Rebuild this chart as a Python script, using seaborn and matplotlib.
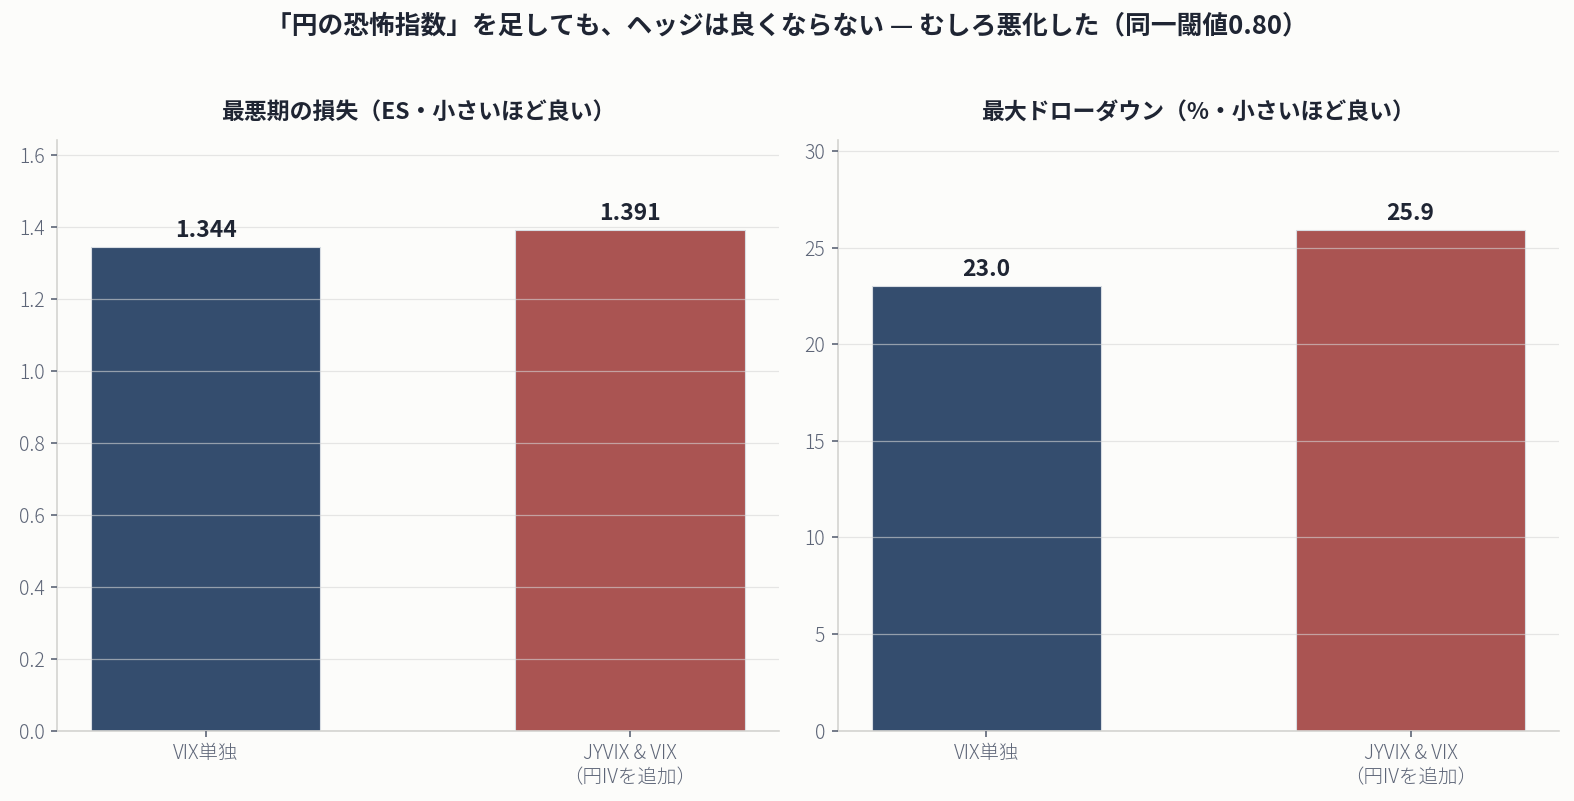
import matplotlib
matplotlib.use("Agg")
import matplotlib.pyplot as plt
import seaborn as sns
import pandas as pd

strategies = ["VIX単独", "JYVIX & VIX\n（円IVを追加）"]
es_values = [1.344, 1.391]
dd_values = [23.0, 25.9]
colors = ["#344d6e", "#aa5452"]

title = "「円の恐怖指数」を足しても、ヘッジは良くならない — むしろ悪化した（同一閾値0.80）"
sub1 = "最悪期の損失（ES・小さいほど良い）"
sub2 = "最大ドローダウン（%・小さいほど良い）"

sns.set_theme(style="white")
plt.rcParams['font.family'] = ['Noto Sans CJK JP', 'DejaVu Sans']

bg = "#fcfcfa"
fig, axes = plt.subplots(1, 2, figsize=(15.74, 8.01), dpi=100, facecolor=bg)
fig.subplots_adjust(left=0.0363, right=0.9905, top=0.825, bottom=0.088, wspace=0.082)

panels = [(axes[0], es_values, sub1, "{:.3f}", [0, 0.2, 0.4, 0.6, 0.8, 1.0, 1.2, 1.4, 1.6], "{:.1f}"),
          (axes[1], dd_values, sub2, "{:.1f}", [0, 5, 10, 15, 20, 25, 30], "{:.0f}")]

for ax, vals, sub, fmt, ticks, tfmt in panels:
    df = pd.DataFrame({"strategy": strategies, "value": vals})
    ax.set_facecolor(bg)
    sns.barplot(data=df, x="strategy", y="value", hue="strategy", palette=colors,
                saturation=1, width=0.54, edgecolor="#d8dde3", linewidth=0.8,
                legend=False, ax=ax)
    ax.set_xlim(-0.35, 1.35)
    ax.set_ylim(0, max(vals) * 1.18)
    ax.set_yticks(ticks)
    ax.set_yticklabels([tfmt.format(t) for t in ticks])
    ax.set_xlabel("")
    ax.set_ylabel("")
    ax.set_axisbelow(False)
    ax.yaxis.grid(True, color="#d6d6d6", linewidth=0.9, alpha=0.6)
    ax.xaxis.grid(False)
    for s in ["top", "right"]:
        ax.spines[s].set_visible(False)
    for s in ["left", "bottom"]:
        ax.spines[s].set_color("#d4d4d0")
        ax.spines[s].set_linewidth(1.2)
    ax.tick_params(axis="both", colors="#5d6577", labelsize=14, length=4, width=1.2,
                   bottom=True, left=True, pad=5)
    for lbl in ax.get_xticklabels() + ax.get_yticklabels():
        lbl.set_color("#5d6577")
        lbl.set_fontweight("light")
    for i, v in enumerate(vals):
        ax.annotate(fmt.format(v), (i, v), xytext=(0, 4), textcoords="offset points",
                    ha="center", va="bottom", fontsize=16.5, fontweight="bold", color="#1f2533")
    ax.set_title(sub, fontsize=16.5, fontweight="bold", color="#1f2533", pad=15)

fig.suptitle(title, fontsize=18.5, fontweight="bold", color="#1f2533", y=0.984)
fig.savefig("out.png", facecolor=bg)
